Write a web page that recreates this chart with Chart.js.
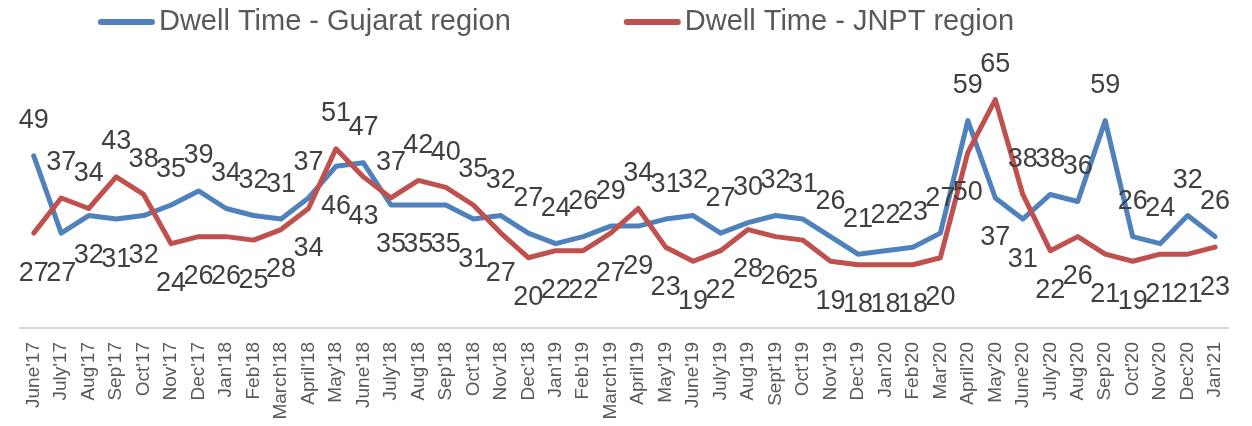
<!DOCTYPE html>
<html>
<head>
<meta charset="utf-8">
<script src="https://cdn.jsdelivr.net/npm/chart.js@4"></script>
<style>
  html, body { margin: 0; padding: 0; background: #fff; }
  #wrap { width: 1252px; height: 426px; }
</style>
</head>
<body>
<div id="wrap"><canvas id="chart" width="1252" height="426"></canvas></div>
<script>
var months = [
  "June'17", "July'17", "Aug'17", "Sep'17", "Oct'17", "Nov'17", "Dec'17",
  "Jan'18", "Feb'18", "March'18", "April'18", "May'18", "June'18", "July'18",
  "Aug'18", "Sep'18", "Oct'18", "Nov'18", "Dec'18", "Jan'19", "Feb'19",
  "March'19", "April'19", "May'19", "June'19", "July'19", "Aug'19", "Sept'19",
  "Oct'19", "Nov'19", "Dec'19", "Jan'20", "Feb'20", "Mar'20", "April'20",
  "May'20", "June'20", "July'20", "Aug'20", "Sep'20", "Oct'20", "Nov'20",
  "Dec'20", "Jan'21"
];
var gujarat = [
  49, 27, 32, 31, 32, 35, 39, 34, 32, 31, 37, 46, 47, 35, 35, 35, 31, 32, 27, 24, 26, 29,
  29, 31, 32, 27, 30, 32, 31, 26, 21, 22, 23, 27, 59, 37, 31, 38, 36, 59, 26, 24, 32, 26
];
var jnpt = [
  27, 37, 34, 43, 38, 24, 26, 26, 25, 28, 34, 51, 43, 37, 42, 40, 35, 27, 20, 22, 22, 27,
  34, 23, 19, 22, 28, 26, 25, 19, 18, 18, 18, 20, 50, 65, 38, 22, 26, 21, 19, 21, 21, 23
];
var seriesNames = ["Dwell Time - Gujarat region", "Dwell Time - JNPT region"];

var FONT = "'Liberation Sans', Arial, sans-serif";
var BLUE = "#4f81bd";
var RED = "#c0504d";

// labels: the higher point of each month gets its number above, the lower one below
var valueLabels = {
  id: "valueLabels",
  afterDatasetsDraw: function (chart) {
    var ctx = chart.ctx;
    var ds = chart.data.datasets;
    var pa = chart.getDatasetMeta(0).data;
    var pb = chart.getDatasetMeta(1).data;
    ctx.save();
    ctx.font = "27px " + FONT;
    ctx.fillStyle = "#404040";
    ctx.textAlign = "center";
    ctx.textBaseline = "middle";
    for (var i = 0; i < pa.length; i++) {
      var va = ds[0].data[i];
      var vb = ds[1].data[i];
      var aUp = va >= vb;
      ctx.fillText(String(va), pa[i].x, aUp ? pa[i].y - 35 : pa[i].y + 40);
      ctx.fillText(String(vb), pb[i].x, aUp ? pb[i].y + 40 : pb[i].y - 35);
    }
    ctx.restore();
  }
};

var topLegend = {
  id: "topLegend",
  afterDraw: function (chart) {
    var ctx = chart.ctx;
    var ds = chart.data.datasets;
    var sample = 57, gap = 4, spacing = 113, y = 22;
    ctx.save();
    ctx.font = "29px " + FONT;
    var widths = [];
    var total = 0;
    for (var i = 0; i < ds.length; i++) {
      widths.push(sample + gap + ctx.measureText(ds[i].label).width);
      total += widths[i];
    }
    total += spacing * (ds.length - 1);
    var x = 556 - total / 2;
    for (var j = 0; j < ds.length; j++) {
      ctx.strokeStyle = ds[j].borderColor;
      ctx.lineWidth = 6;
      ctx.lineCap = "round";
      ctx.beginPath();
      ctx.moveTo(x + 3, y);
      ctx.lineTo(x + sample - 3, y);
      ctx.stroke();
      ctx.fillStyle = "#595959";
      ctx.textAlign = "left";
      ctx.textBaseline = "middle";
      ctx.fillText(ds[j].label, x + sample + gap, y);
      x += widths[j] + spacing;
    }
    ctx.restore();
  }
};

new Chart(document.getElementById("chart"), {
  type: "line",
  data: {
    labels: months,
    datasets: [
      {
        label: seriesNames[0],
        data: gujarat,
        borderColor: BLUE,
        backgroundColor: BLUE,
        borderWidth: 5,
        pointRadius: 0,
        tension: 0,
        fill: false,
        borderJoinStyle: "round",
        borderCapStyle: "round",
        order: 1
      },
      {
        label: seriesNames[1],
        data: jnpt,
        borderColor: RED,
        backgroundColor: RED,
        borderWidth: 5,
        pointRadius: 0,
        tension: 0,
        fill: false,
        borderJoinStyle: "round",
        borderCapStyle: "round",
        order: 0
      }
    ]
  },
  options: {
    responsive: false,
    animation: false,
    devicePixelRatio: 1,
    layout: { padding: { top: 82, left: 20, right: 7, bottom: 0 } },
    plugins: {
      legend: { display: false },
      tooltip: { enabled: false }
    },
    scales: {
      x: {
        offset: true,
        grid: { display: false, drawTicks: false },
        border: { display: true, color: "#d9d9d9", width: 2 },
        ticks: {
          autoSkip: false,
          maxRotation: 90,
          minRotation: 90,
          padding: 14,
          color: "#595959",
          font: { family: FONT, size: 19 }
        },
        afterFit: function (scale) {
          scale.height = 98;
        }
      },
      y: {
        display: false,
        min: 0,
        max: 70
      }
    }
  },
  plugins: [valueLabels, topLegend]
});
</script>
</body>
</html>
